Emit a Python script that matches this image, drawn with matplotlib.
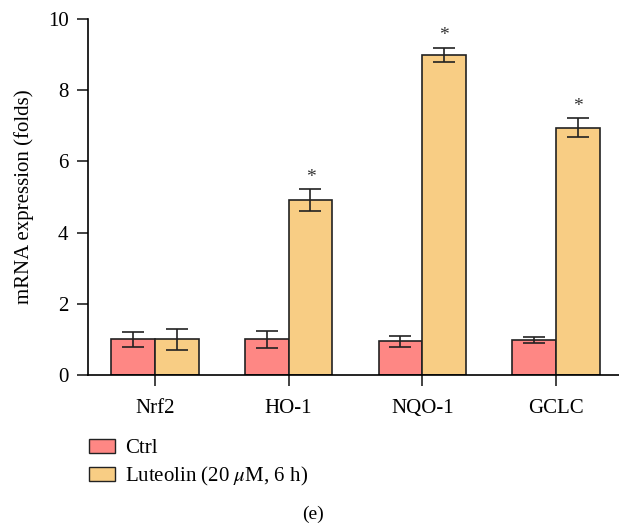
import matplotlib.pyplot as plt
import numpy as np
from matplotlib.patches import Patch

genes = ['Nrf2', 'HO-1', 'NQO-1', 'GCLC']
ctrl = [1.0, 1.0, 0.95, 0.98]
ctrl_err = [0.2, 0.23, 0.15, 0.085]
lut = [1.0, 4.92, 8.99, 6.95]
lut_err = [0.3, 0.3, 0.2, 0.26]
signif = [False, True, True, True]

plt.rcParams['font.family'] = ['Liberation Serif', 'DejaVu Serif']
plt.rcParams['mathtext.fontset'] = 'stix'

fig = plt.figure(figsize=(6.19, 5.26), dpi=100)
ax = fig.add_axes([0.142, 0.287, 0.858, 0.677])

x = np.arange(len(genes))
w = 0.327
c1 = '#fe8784'
c2 = '#f8cd84'
ax.bar(x - w/2, ctrl, w, color=c1, edgecolor='#222222', linewidth=1.2)
ax.bar(x + w/2, lut, w, color=c2, edgecolor='#222222', linewidth=1.2)
ax.errorbar(x - w/2, ctrl, yerr=ctrl_err, fmt='none', ecolor='#222222', capsize=8, elinewidth=1.2, capthick=1.2)
ax.errorbar(x + w/2, lut, yerr=lut_err, fmt='none', ecolor='#222222', capsize=8, elinewidth=1.2, capthick=1.2)
for i in range(len(genes)):
    if signif[i]:
        ax.text(x[i] + w/2, lut[i] + lut_err[i] + 0.1, '*', ha='center', va='bottom', fontsize=14, color='#333333')

ax.set_xlim(-0.5, 3.47)
ax.set_ylim(0, 10)
ax.set_yticks([0, 2, 4, 6, 8, 10])
ax.set_xticks(x)
ax.set_xticklabels(genes)
ax.tick_params(axis='both', labelsize=15, length=8, width=1.2, color='#222222')
ax.tick_params(axis='x', pad=9)
ax.tick_params(axis='y', pad=6)
ax.spines['top'].set_visible(False)
ax.spines['right'].set_visible(False)
ax.spines['left'].set_linewidth(1.2)
ax.spines['bottom'].set_linewidth(1.2)
ax.set_ylabel('mRNA expression (folds)', fontsize=15, labelpad=10)

handles = [Patch(facecolor=c1, edgecolor='#222222', label='Ctrl'),
           Patch(facecolor=c2, edgecolor='#222222', label=r'Luteolin (20 $\mu$M, 6 h)')]
fig.legend(handles=handles, loc='upper left', bbox_to_anchor=(0.13, 0.182), frameon=False,
           fontsize=15, handlelength=1.25, handleheight=0.65, labelspacing=0.35, handletextpad=0.5,
           borderaxespad=0)
fig.text(0.505, 0.005, '(e)', ha='center', va='bottom', fontsize=14)

fig.savefig('out.png', dpi=100)
